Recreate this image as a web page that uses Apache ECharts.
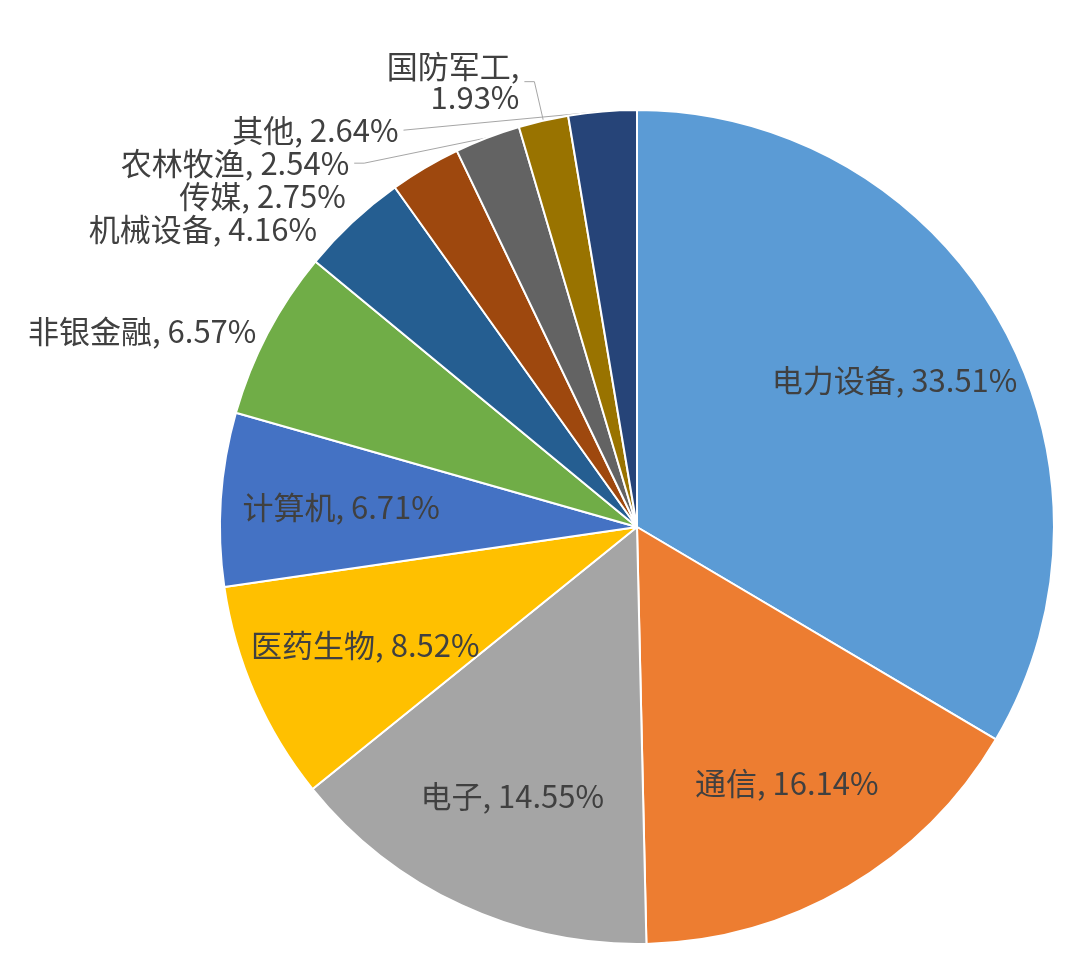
<!DOCTYPE html><html><head><meta charset="utf-8"><script src="https://cdn.jsdelivr.net/npm/echarts@6/dist/echarts.min.js"></script></head><body style="margin:0"><div id="c" style="width:1080px;height:968px"></div><script>
const categories=['电力设备','通信','电子','医药生物','计算机','非银金融','机械设备','传媒','农林牧渔','国防军工','其他'];
const values=[33.51,16.14,14.55,8.52,6.71,6.57,4.16,2.75,2.54,1.93,2.64];
const colors=['#5B9BD5','#ED7D31','#A5A5A5','#FFC000','#4472C4','#70AD47','#255E91','#9E480E','#636363','#997300','#264478'];
const insideN=5;
const font={fontFamily:'Noto Sans CJK SC',fontSize:31,color:'#404040'};
const outer=categories.map((n,i)=>{
  const o={name:n,value:values[i],itemStyle:{color:colors[i]}};
  if(i<insideN){o.label={show:false};o.labelLine={show:false};}
  else{
    const lined=i>=8;
    o.label={show:true,...font,formatter:i==9?'{b},\n{c}%':'{b}, {c}%'};
    o.labelLine={show:lined,length:lined?40:4,length2:lined?10:0,lineStyle:{color:'#A6A6A6'}};
  }
  return o;});
const inner=categories.map((n,i)=>({name:n,value:values[i],label:{show:i<insideN}}));
const chart=echarts.init(document.getElementById('c'));
chart.setOption({animation:false,backgroundColor:'#fff',series:[
 {type:'pie',center:[637,527],radius:417,startAngle:90,clockwise:true,data:outer,
  itemStyle:{borderColor:'#fff',borderWidth:2},label:{position:'outside',...font}},
 {type:'pie',center:[637,527],radius:[170,417],startAngle:90,clockwise:true,silent:true,data:inner,
  itemStyle:{color:'rgba(0,0,0,0)'},label:{position:'inside',...font,formatter:'{b}, {c}%'},labelLine:{show:false}}
]});
</script></body></html>
